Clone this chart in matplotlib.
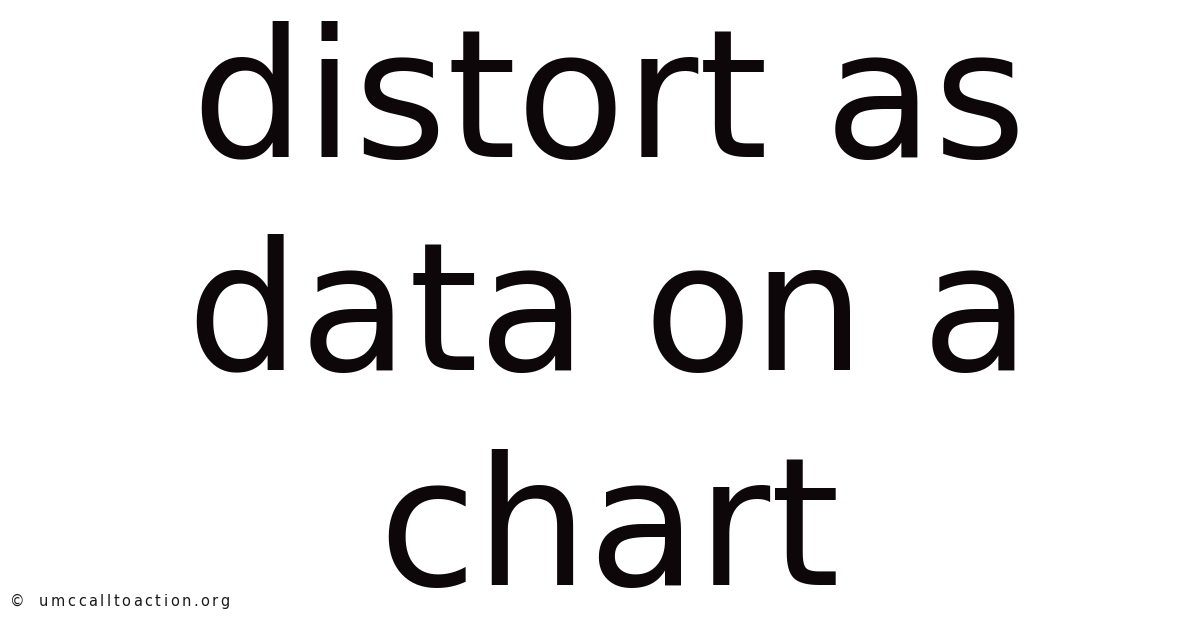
import matplotlib
matplotlib.use("Agg")
import matplotlib.pyplot as plt

# title text, one entry per line
title_lines = ["distort as", "data on a", "chart"]
baselines_px = [157, 370, 585]
footer = "\u00a9 umccalltoaction.org"

W, H = 1200, 628
fig = plt.figure(figsize=(W / 100, H / 100), dpi=100)
fig.patch.set_facecolor("white")

ink = "#0d0709"
for line, y in zip(title_lines, baselines_px):
    fig.text(0.5075, 1 - y / H, line, ha="center", va="baseline",
             fontsize=128, color=ink, family="DejaVu Sans")

# footer is drawn letter by letter with a little extra tracking (wide look)
renderer = fig.canvas.get_renderer()
fsize = 10.5
x = 10.0
y = 1 - 606 / H
target_right = 230.0
widths = []
for ch in footer:
    t = fig.text(0, 0, ch if ch != " " else "a", fontsize=fsize, family="DejaVu Sans")
    widths.append(t.get_window_extent(renderer).width)
    t.remove()
track = (target_right - x - sum(widths)) / (len(footer) - 1)
for ch, w in zip(footer, widths):
    if ch != " ":
        fig.text(x / W, y, ch, ha="left", va="baseline",
                 fontsize=fsize, color="#1a1a1a", family="DejaVu Sans")
    x += w + track

fig.savefig("out.png", dpi=100, facecolor="white")
